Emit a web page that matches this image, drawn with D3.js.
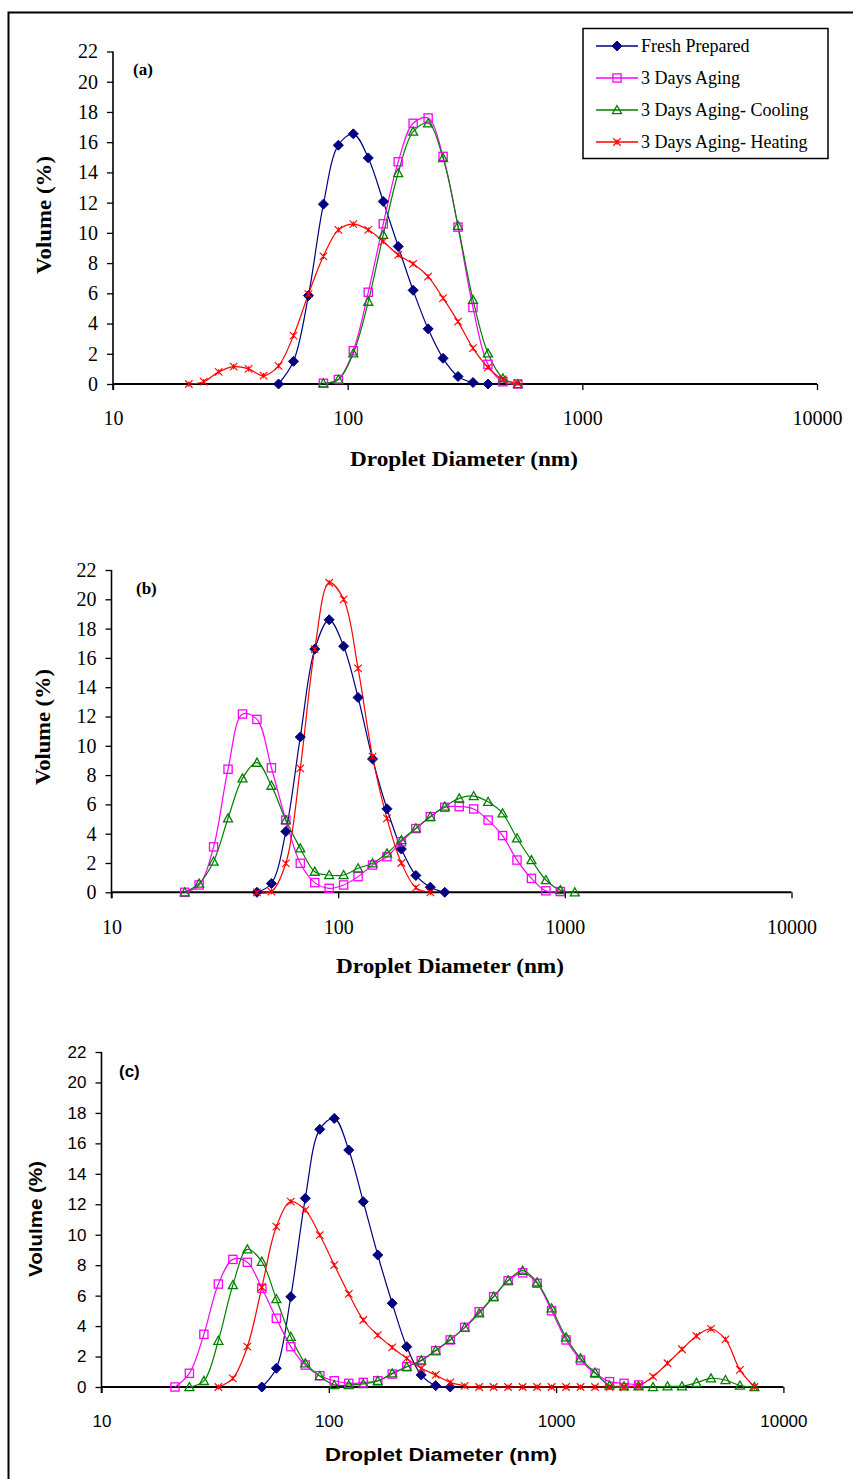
<!DOCTYPE html>
<html><head><meta charset="utf-8">
<script src="https://cdnjs.cloudflare.com/ajax/libs/d3/7.8.5/d3.min.js"></script>
<style>body{margin:0;background:#fff}svg{display:block}</style>
</head><body><svg id="chart" width="853" height="1479"></svg>
<script>
// ---------------- DATA ----------------
const seriesNames = ["Fresh Prepared", "3 Days Aging", "3 Days Aging- Cooling", "3 Days Aging- Heating"];
const xTickValues = [10, 100, 1000, 10000];
const yTickValues = [0, 2, 4, 6, 8, 10, 12, 14, 16, 18, 20, 22];

// Panel (a)
const aFreshD = [50.75, 58.77, 68.06, 78.82, 91.28, 105.7, 122.4, 141.8, 164.2, 190.1, 220.2, 255.0, 295.3, 342.0, 396.1];
const aFreshV = [0, 1.5, 5.85, 11.9, 15.8, 16.55, 14.96, 12.08, 9.1, 6.2, 3.65, 1.7, 0.5, 0.1, 0];
const aAgingD = [78.82, 91.28, 105.7, 122.4, 141.8, 164.2, 190.1, 220.2, 255.0, 295.3, 342.0, 396.1, 458.7, 531.2];
const aAgingV = [0.05, 0.3, 2.2, 6.07, 10.6, 14.7, 17.25, 17.6, 15.06, 10.38, 5.06, 1.3, 0.15, 0];
const aCoolD = [78.82, 91.28, 105.7, 122.4, 141.8, 164.2, 190.1, 220.2, 255.0, 295.3, 342.0, 396.1, 458.7, 531.2];
const aCoolV = [0.05, 0.3, 2.03, 5.45, 9.87, 13.96, 16.7, 17.25, 14.95, 10.47, 5.57, 2.03, 0.38, 0];
const aHeatD = [21.04, 24.36, 28.21, 32.67, 37.84, 43.82, 50.75, 58.77, 68.06, 78.82, 91.28, 105.7, 122.4, 141.8, 164.2, 190.1, 220.2, 255.0, 295.3, 342.0, 396.1, 458.7, 531.2];
const aHeatV = [0, 0.15, 0.8, 1.15, 1.0, 0.55, 1.2, 3.2, 5.95, 8.45, 10.2, 10.58, 10.2, 9.43, 8.55, 7.95, 7.1, 5.68, 4.13, 2.37, 1.1, 0.3, 0.05];

// Panel (b)
const bFreshD = [43.82, 50.75, 58.77, 68.06, 78.82, 91.28, 105.7, 122.4, 141.8, 164.2, 190.1, 220.2, 255.0, 295.3];
const bFreshV = [0, 0.6, 4.15, 10.6, 16.6, 18.6, 16.8, 13.3, 9.1, 5.7, 2.95, 1.15, 0.35, 0];
const bAgingD = [21.04, 24.36, 28.21, 32.67, 37.84, 43.82, 50.75, 58.77, 68.06, 78.82, 91.28, 105.7, 122.4, 141.8, 164.2, 190.1, 220.2, 255.0, 295.3, 342.0, 396.1, 458.7, 531.2, 615.1, 712.4, 825.0, 955.4];
const bAgingV = [0, 0.5, 3.1, 8.4, 12.17, 11.8, 8.5, 4.93, 1.98, 0.66, 0.27, 0.5, 1.07, 1.86, 2.43, 3.45, 4.35, 5.16, 5.8, 5.85, 5.69, 4.93, 3.87, 2.2, 0.95, 0.1, 0.05];
const bCoolD = [21.04, 24.36, 28.21, 32.67, 37.84, 43.82, 50.75, 58.77, 68.06, 78.82, 91.28, 105.7, 122.4, 141.8, 164.2, 190.1, 220.2, 255.0, 295.3, 342.0, 396.1, 458.7, 531.2, 615.1, 712.4, 825.0, 955.4, 1106];
const bCoolV = [0, 0.6, 2.1, 5.05, 7.78, 8.85, 7.28, 4.93, 3.0, 1.41, 1.18, 1.18, 1.64, 1.98, 2.66, 3.57, 4.37, 5.16, 5.85, 6.41, 6.57, 6.18, 5.39, 3.69, 2.2, 0.84, 0.15, 0];
const bHeatD = [43.82, 50.75, 58.77, 68.06, 78.82, 91.28, 105.7, 122.4, 141.8, 164.2, 190.1, 220.2, 255.0];
const bHeatV = [0, 0.05, 1.98, 8.46, 16.6, 21.13, 20.0, 15.29, 9.26, 5.05, 2.0, 0.32, 0];

// Panel (c)
const cFreshD = [50.75, 58.77, 68.06, 78.82, 91.28, 105.7, 122.4, 141.8, 164.2, 190.1, 220.2, 255.0, 295.3, 342.0];
const cFreshV = [0, 1.23, 5.93, 12.39, 16.92, 17.64, 15.56, 12.17, 8.67, 5.5, 2.65, 0.79, 0.09, 0];
const cAgingD = [21.04, 24.36, 28.21, 32.67, 37.84, 43.82, 50.75, 58.77, 68.06, 78.82, 91.28, 105.7, 122.4, 141.8, 164.2, 190.1, 220.2, 255.0, 295.3, 342.0, 396.1, 458.7, 531.2, 615.1, 712.4, 825.0, 955.4, 1106, 1281, 1484, 1718, 1990, 2305];
const cAgingV = [0, 0.9, 3.46, 6.76, 8.38, 8.19, 6.48, 4.51, 2.65, 1.44, 0.74, 0.41, 0.24, 0.3, 0.41, 0.85, 1.33, 1.73, 2.38, 3.09, 3.92, 4.94, 5.93, 6.98, 7.5, 6.81, 5.01, 3.09, 1.77, 0.9, 0.35, 0.24, 0.13];
const cCoolD = [24.36, 28.21, 32.67, 37.84, 43.82, 50.75, 58.77, 68.06, 78.82, 91.28, 105.7, 122.4, 141.8, 164.2, 190.1, 220.2, 255.0, 295.3, 342.0, 396.1, 458.7, 531.2, 615.1, 712.4, 825.0, 955.4, 1106, 1281, 1484, 1718, 1990, 2305, 2669, 3091, 3580, 4145, 4801, 5560, 6439, 7456];
const cCoolV = [0, 0.4, 3.04, 6.7, 9.04, 8.23, 5.78, 3.3, 1.56, 0.72, 0.13, 0.13, 0.2, 0.4, 0.9, 1.33, 1.75, 2.4, 3.1, 3.9, 4.84, 5.93, 7.0, 7.64, 6.87, 5.17, 3.26, 1.88, 0.94, 0.1, 0.05, 0.05, 0, 0.05, 0.05, 0.28, 0.57, 0.46, 0.1, 0];
const cHeatD = [32.67, 37.84, 43.82, 50.75, 58.77, 68.06, 78.82, 91.28, 105.7, 122.4, 141.8, 164.2, 190.1, 220.2, 255.0, 295.3, 342.0, 396.1, 458.7, 531.2, 615.1, 712.4, 825.0, 955.4, 1106, 1281, 1484, 1718, 1990, 2305, 2669, 3091, 3580, 4145, 4801, 5560, 6439, 7456];
const cHeatV = [0, 0.57, 2.65, 6.55, 10.53, 12.17, 11.62, 9.98, 8.01, 6.11, 4.4, 3.41, 2.6, 1.88, 1.23, 0.79, 0.3, 0.08, 0, 0, 0, 0, 0, 0, 0, 0, 0, 0, 0, 0.08, 0.68, 1.56, 2.48, 3.35, 3.81, 3.13, 1.12, 0];

// ---------------- STYLE / LAYOUT ----------------
const styles = [
  {color: "#000080", marker: "diamond"},
  {color: "#FF00FF", marker: "square"},
  {color: "#008000", marker: "triangle"},
  {color: "#FF0000", marker: "star"}
];
const SERIF = "'Liberation Serif','Times New Roman',serif";
const SANS = "'Liberation Sans',Arial,sans-serif";

const panels = [
  {x10: 113, x10000: 817, y0: 384, y22: 51.5, font: SERIF, tickSize: 20,
   label: "(a)", labelXY: [133, 75], yTitle: "Volume (%)", yTitleXY: [44, 215], yTitleLen: 118,
   xTitleXY: [464, 466], xTitleLen: 228, xLabelY: 425, legend: true,
   data: [[aFreshD, aFreshV], [aAgingD, aAgingV], [aCoolD, aCoolV], [aHeatD, aHeatV]]},
  {x10: 111.5, x10000: 791.5, y0: 892.3, y22: 570, font: SERIF, tickSize: 20,
   label: "(b)", labelXY: [136, 594], yTitle: "Volume (%)", yTitleXY: [43, 727], yTitleLen: 116,
   xTitleXY: [450, 973], xTitleLen: 228, xLabelY: 934, legend: false,
   data: [[bFreshD, bFreshV], [bAgingD, bAgingV], [bCoolD, bCoolV], [bHeatD, bHeatV]]},
  {x10: 101.5, x10000: 783.4, y0: 1387, y22: 1052, font: SANS, tickSize: 17,
   label: "(c)", labelXY: [119, 1077], yTitle: "Volulme (%)", yTitleXY: [36, 1219], yTitleLen: 116,
   xTitleXY: [441, 1461], xTitleLen: 232, xLabelY: 1427, legend: false,
   data: [[cFreshD, cFreshV], [cAgingD, cAgingV], [cCoolD, cCoolV], [cHeatD, cHeatV]]}
];

const svg = d3.select("#chart");
svg.append("rect").attr("width", 853).attr("height", 1479).attr("fill", "#fff");
// outer frame (left and top edges visible)
svg.append("path").attr("d", "M8.5,1479 L8.5,12.5 L853,12.5").attr("fill", "none").attr("stroke", "#000").attr("stroke-width", 2);

function drawMarker(g, type, color, x, y, s) {
  if (type === "diamond") {
    g.append("path").attr("d", `M${x},${y - s} L${x + s},${y} L${x},${y + s} L${x - s},${y} Z`).attr("fill", color).attr("stroke", color);
  } else if (type === "square") {
    const h = s * 0.82;
    g.append("rect").attr("x", x - h).attr("y", y - h).attr("width", 2 * h).attr("height", 2 * h)
      .attr("fill", "none").attr("stroke", color).attr("stroke-width", 1.3);
  } else if (type === "triangle") {
    const h = s * 0.9;
    g.append("path").attr("d", `M${x},${y - h} L${x + h},${y + h * 0.8} L${x - h},${y + h * 0.8} Z`)
      .attr("fill", "none").attr("stroke", color).attr("stroke-width", 1.3);
  } else {
    const h = s * 0.75;
    g.append("path").attr("d", `M${x - h},${y - h} L${x + h},${y + h} M${x - h},${y + h} L${x + h},${y - h} M${x},${y - h * 0.7} L${x},${y + h * 0.7}`)
      .attr("fill", "none").attr("stroke", color).attr("stroke-width", 1.1);
  }
}

panels.forEach(p => {
  const g = svg.append("g");
  const x = d3.scaleLog().domain([10, 10000]).range([p.x10, p.x10000]);
  const y = d3.scaleLinear().domain([0, 22]).range([p.y0, p.y22]);

  // y axis
  const yAxis = d3.axisLeft(y).tickValues(yTickValues).tickSize(6).tickPadding(9).tickFormat(d3.format("d"));
  const ya = g.append("g").attr("transform", `translate(${p.x10},0)`).call(yAxis);
  ya.select(".domain").attr("stroke", "#000").attr("stroke-width", 1.6).attr("d", `M-0,${p.y0 + 6}V${p.y22}`);
  ya.selectAll(".tick line").attr("stroke", "#000").attr("stroke-width", 1.3);
  ya.selectAll(".tick text").attr("font-family", p.font).attr("font-size", p.tickSize).attr("fill", "#000");

  // x axis at y=0
  const xAxis = d3.axisBottom(x).tickValues(xTickValues).tickSize(6).tickFormat(d3.format("d"));
  const xa = g.append("g").attr("transform", `translate(0,${p.y0})`).call(xAxis);
  xa.select(".domain").attr("stroke", "#000").attr("stroke-width", 2).attr("d", `M${p.x10},0H${p.x10000}`);
  xa.selectAll(".tick line").attr("stroke", "#000").attr("stroke-width", 1.3);
  xa.selectAll(".tick text").attr("font-family", p.font).attr("font-size", p.tickSize).attr("fill", "#000")
    .attr("y", p.xLabelY - p.y0).attr("dy", 0);

  // titles
  const bold = "bold";
  g.append("text").attr("x", p.xTitleXY[0]).attr("y", p.xTitleXY[1]).attr("text-anchor", "middle")
    .attr("font-family", p.font).attr("font-weight", bold).attr("font-size", p.font === SERIF ? 20 : 18)
    .attr("textLength", p.xTitleLen).attr("lengthAdjust", "spacingAndGlyphs")
    .text("Droplet Diameter (nm)");
  g.append("text").attr("transform", `translate(${p.yTitleXY[0]},${p.yTitleXY[1]}) rotate(-90)`)
    .attr("text-anchor", "middle").attr("dy", "0.35em")
    .attr("font-family", p.font).attr("font-weight", bold).attr("font-size", p.font === SERIF ? 20 : 18)
    .attr("textLength", p.yTitleLen).attr("lengthAdjust", "spacingAndGlyphs")
    .text(p.yTitle);
  g.append("text").attr("x", p.labelXY[0]).attr("y", p.labelXY[1])
    .attr("font-family", p.font).attr("font-weight", bold).attr("font-size", 17).text(p.label);

  // series
  const line = d3.line().x(d => x(d[0])).y(d => y(d[1])).curve(d3.curveCatmullRom.alpha(0.5));
  p.data.forEach((ds, i) => {
    const pts = ds[0].map((d, k) => [d, ds[1][k]]);
    const st = styles[i];
    g.append("path").attr("d", line(pts)).attr("fill", "none").attr("stroke", st.color).attr("stroke-width", 1.2);
  });
  p.data.forEach((ds, i) => {
    const st = styles[i];
    const mg = g.append("g");
    ds[0].forEach((d, k) => drawMarker(mg, st.marker, st.color, x(d), y(ds[1][k]), 5));
  });

  if (p.legend) {
    const lg = g.append("g");
    lg.append("rect").attr("x", 583).attr("y", 28.5).attr("width", 245).attr("height", 130)
      .attr("fill", "#fff").attr("stroke", "#000").attr("stroke-width", 1.5);
    seriesNames.forEach((name, i) => {
      const yy = 46 + i * 32;
      const st = styles[i];
      lg.append("line").attr("x1", 596).attr("x2", 638).attr("y1", yy).attr("y2", yy).attr("stroke", st.color).attr("stroke-width", 1.3);
      drawMarker(lg, st.marker, st.color, 617, yy, 5);
      lg.append("text").attr("x", 641).attr("y", yy).attr("dy", "0.35em")
        .attr("font-family", SERIF).attr("font-size", 18).text(name);
    });
  }
});
</script></body></html>
